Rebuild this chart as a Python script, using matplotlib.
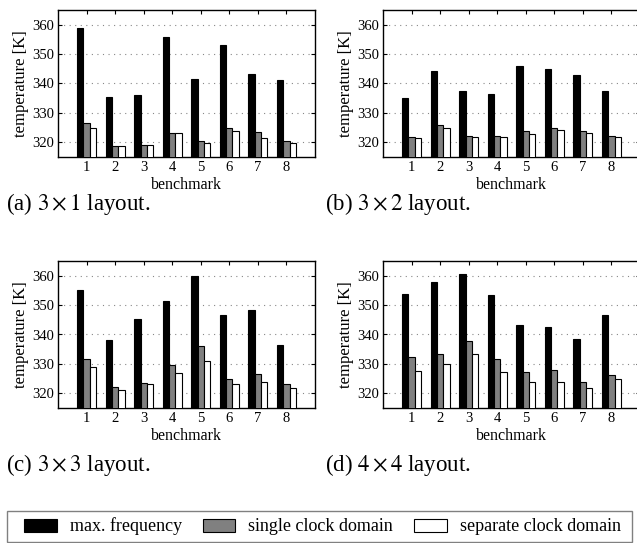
import matplotlib.pyplot as plt
import matplotlib.patches as mpatches
import numpy as np

plt.rcParams['font.family'] = ['Liberation Serif', 'DejaVu Serif']
plt.rcParams['mathtext.fontset'] = 'stix'

benchmarks = [1, 2, 3, 4, 5, 6, 7, 8]
series_names = ["max. frequency", "single clock domain", "separate clock domain"]

# temperatures [K] per layout: max. frequency, single clock domain, separate clock domain
max_3x1 = [358.9, 335.3, 336.1, 355.9, 341.6, 353.0, 343.3, 341.3]
single_3x1 = [326.5, 318.9, 319.1, 323.1, 320.3, 324.8, 323.4, 320.3]
separate_3x1 = [325.0, 318.75, 319.1, 323.1, 319.7, 324.0, 321.4, 319.7]

max_3x2 = [334.9, 344.3, 337.6, 336.4, 345.8, 344.8, 343.0, 337.4]
single_3x2 = [321.9, 326.0, 322.2, 322.2, 324.0, 324.8, 324.0, 322.3]
separate_3x2 = [321.6, 324.9, 321.8, 321.7, 322.8, 324.1, 323.1, 321.7]

max_3x3 = [355.1, 338.2, 345.4, 351.4, 359.9, 346.6, 348.5, 336.5]
single_3x3 = [331.6, 322.0, 323.6, 329.7, 336.0, 325.0, 326.5, 323.2]
separate_3x3 = [328.8, 321.0, 323.2, 327.0, 330.9, 323.3, 323.9, 321.7]

max_4x4 = [353.7, 357.9, 360.5, 353.6, 343.3, 342.6, 338.3, 346.7]
single_4x4 = [332.2, 333.4, 337.9, 331.5, 327.1, 327.9, 323.8, 326.3]
separate_4x4 = [327.6, 329.9, 333.5, 327.1, 323.9, 324.0, 321.9, 325.0]

captions = [r"(a) $3\times1$ layout.", r"(b) $3\times2$ layout.",
            r"(c) $3\times3$ layout.", r"(d) $4\times4$ layout."]
yticks = [320, 330, 340, 350, 360]

panels = [(max_3x1, single_3x1, separate_3x1),
          (max_3x2, single_3x2, separate_3x2),
          (max_3x3, single_3x3, separate_3x3),
          (max_4x4, single_4x4, separate_4x4)]
colors = ["#000000", "#808080", "#ffffff"]

W, H = 637, 543
fig = plt.figure(figsize=(W / 100, H / 100), dpi=100)

# axes boxes in pixels: left, top, width, height
boxes = [(58, 10, 257, 147), (383, 10, 257, 147),
         (58, 261, 257, 147), (383, 261, 257, 147)]
cap_pos = [(6, 204), (325, 204), (6, 465), (325, 465)]

x = np.array(benchmarks)
w = 0.22
for vals, box, cap, cp in zip(panels, boxes, captions, cap_pos):
    l, t, bw, bh = box
    ax = fig.add_axes([l / W, (H - t - bh) / H, bw / W, bh / H])
    for i, (v, c) in enumerate(zip(vals, colors)):
        ax.bar(x + (i - 1) * w, v, width=w, color=c, edgecolor="black",
               linewidth=0.8, zorder=3)
    ax.set_xlim(0, 9)
    ax.set_ylim(315, 365)
    ax.set_xticks(benchmarks)
    ax.set_yticks(yticks)
    ax.yaxis.grid(True, linestyle=(0, (1, 4)), color="#888888", linewidth=0.8)
    ax.tick_params(direction="in", top=True, right=True, length=3,
                   labelsize=10.5, pad=3)
    for s in ax.spines.values():
        s.set_linewidth(1.0)
    ax.set_xlabel("benchmark", fontsize=11.5, labelpad=2)
    ax.set_ylabel("temperature [K]", fontsize=12, labelpad=2)
    fig.text(cp[0] / W, 1 - cp[1] / H, cap, fontsize=16.5, va="center", ha="left")

# legend frame drawn separately, entries without frame
fig.patches.append(mpatches.Rectangle((7 / W, 1 / H), 625 / W, 31 / H,
                                      transform=fig.transFigure, fill=False,
                                      edgecolor="#808080", linewidth=1.0))
handles = [mpatches.Patch(facecolor=c, edgecolor="black", linewidth=0.8)
           for c in colors]
leg = fig.legend(handles, series_names, loc="center", ncol=3,
                 bbox_to_anchor=(322.5 / W, 1 - 526.5 / H),
                 fontsize=13, frameon=False, handlelength=1.8,
                 handleheight=0.72, borderaxespad=0, borderpad=0,
                 handletextpad=0.72, columnspacing=1.17)

plt.savefig("out.png", dpi=100)
